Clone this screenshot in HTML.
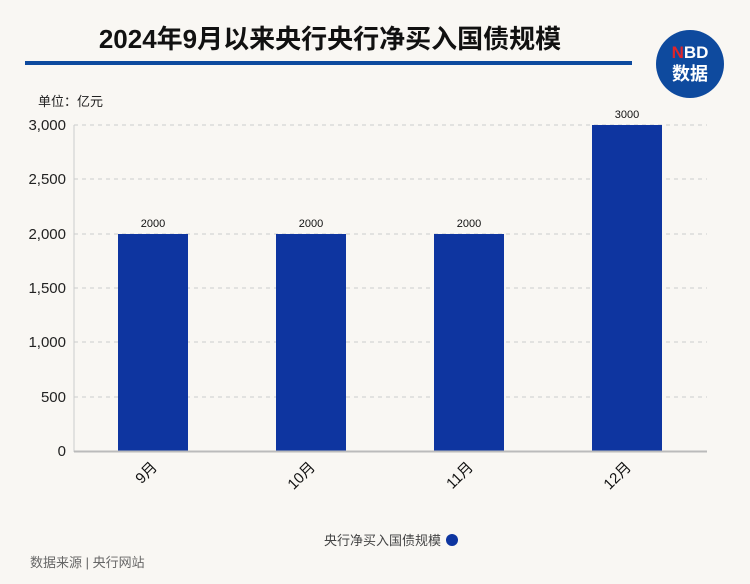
<!DOCTYPE html>
<html><head><meta charset="utf-8"><style>
body{margin:0;width:750px;height:579px;background:#f9f7f3;overflow:hidden;font-family:"Liberation Sans","Noto Sans CJK SC",sans-serif;}
</style></head><body>
<svg width="750" height="579" xmlns="http://www.w3.org/2000/svg" font-family="Liberation Sans, Noto Sans CJK SC, sans-serif">
<rect width="750" height="579" fill="#f9f7f3"/>
<text x="330" y="48" text-anchor="middle" font-size="26" font-weight="bold" fill="#111">2024年9月以来央行央行净买入国债规模</text>
<rect x="25" y="61" width="607" height="4" fill="#0e4a9e"/>
<circle cx="690" cy="64" r="34" fill="#0e4a9e"/>
<text x="690" y="58" text-anchor="middle" font-size="17" font-weight="bold" fill="#fff"><tspan fill="#e0252a">N</tspan>BD</text>
<text x="690" y="80" text-anchor="middle" font-size="18" font-weight="bold" fill="#fff">数据</text>
<text x="38" y="106" font-size="13" fill="#222">单位：亿元</text>
<g stroke="#ccc" stroke-dasharray="4,4">
<line x1="74" x2="707" y1="125" y2="125"/><line x1="74" x2="707" y1="179" y2="179"/><line x1="74" x2="707" y1="234" y2="234"/><line x1="74" x2="707" y1="288" y2="288"/><line x1="74" x2="707" y1="342" y2="342"/><line x1="74" x2="707" y1="397" y2="397"/>
</g>
<line x1="74" x2="74" y1="125" y2="452" stroke="#ccc"/>
<g font-size="15" fill="#222" text-anchor="end">
<text x="66" y="130">3,000</text><text x="66" y="184">2,500</text><text x="66" y="239">2,000</text><text x="66" y="293">1,500</text><text x="66" y="347">1,000</text><text x="66" y="402">500</text><text x="66" y="456">0</text>
</g>
<g fill="#0e35a0">
<rect x="118" y="234" width="70" height="217"/><rect x="276" y="234" width="70" height="217"/><rect x="434" y="234" width="70" height="217"/><rect x="592" y="125" width="70" height="326"/>
</g>
<line x1="74" x2="707" y1="451.5" y2="451.5" stroke="#bbb" stroke-width="2"/>
<g font-size="11" fill="#111" text-anchor="middle">
<text x="153" y="227">2000</text><text x="311" y="227">2000</text><text x="469" y="227">2000</text><text x="627" y="118">3000</text>
</g>
<g font-size="15" fill="#111" text-anchor="end">
<text transform="translate(158,468) rotate(-45)">9月</text>
<text transform="translate(316,468) rotate(-45)">10月</text>
<text transform="translate(474,468) rotate(-45)">11月</text>
<text transform="translate(632,468) rotate(-45)">12月</text>
</g>
<text x="441" y="545" text-anchor="end" font-size="13" fill="#444">央行净买入国债规模</text>
<circle cx="452" cy="540" r="6" fill="#0e35a0"/>
<text x="30" y="567" font-size="13" fill="#666">数据来源 | 央行网站</text>
</svg>
</body></html>
